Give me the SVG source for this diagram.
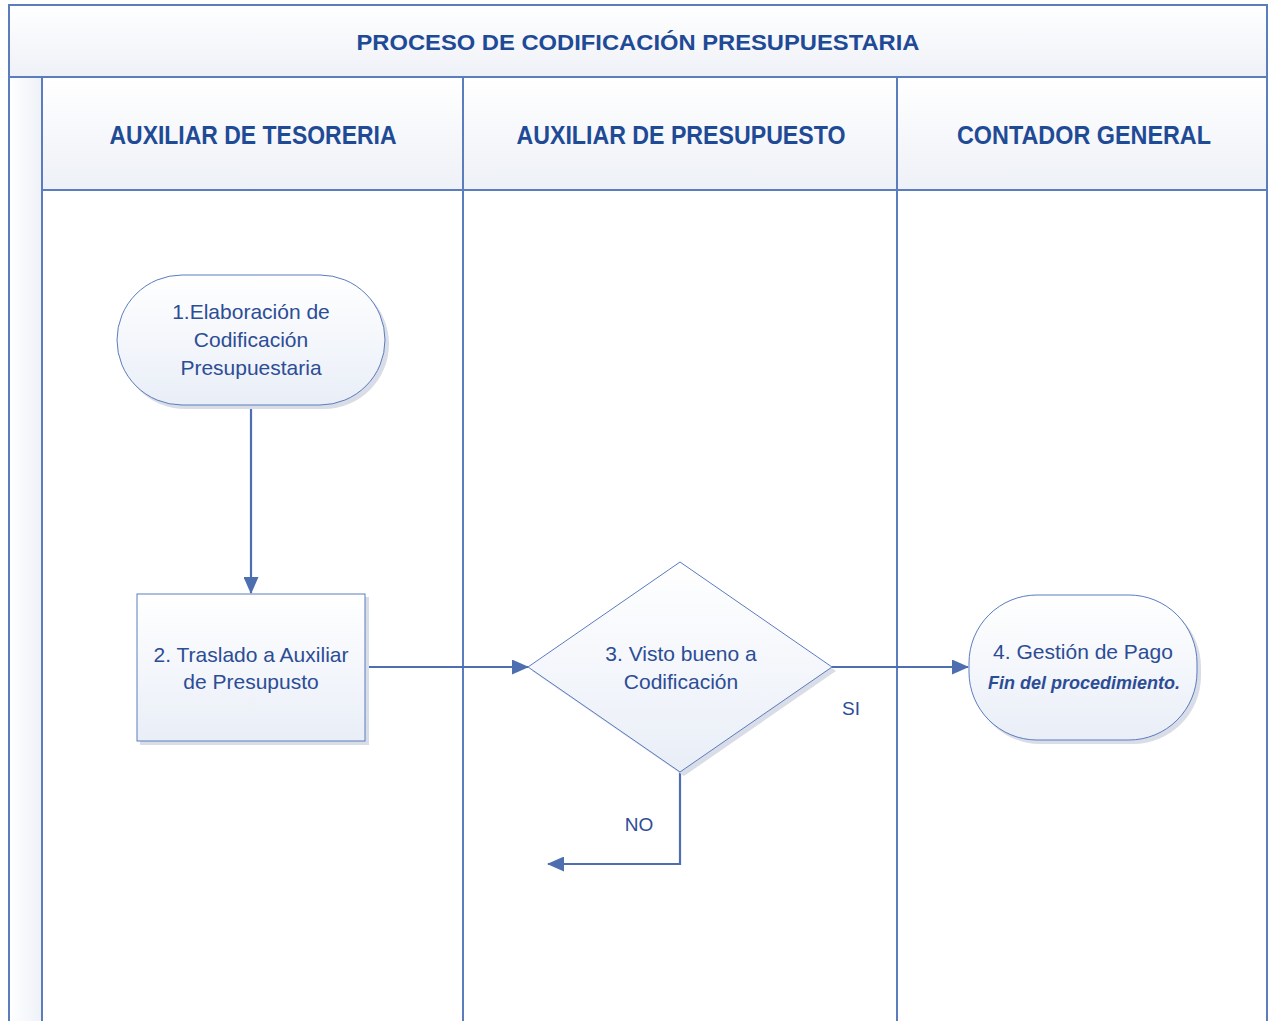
<svg xmlns="http://www.w3.org/2000/svg" width="1268" height="1021" viewBox="0 0 1268 1021">
<defs>
<linearGradient id="hdr" x1="0" y1="0" x2="0" y2="1"><stop offset="0" stop-color="#ffffff"/><stop offset="1" stop-color="#eef1f7"/></linearGradient>
<linearGradient id="nd" x1="0" y1="0" x2="0" y2="1"><stop offset="0" stop-color="#ffffff"/><stop offset="1" stop-color="#e9eef7"/></linearGradient>
<linearGradient id="strip" x1="0" y1="0" x2="1" y2="0"><stop offset="0" stop-color="#ffffff"/><stop offset="1" stop-color="#eef1f7"/></linearGradient>
<marker id="ah" markerWidth="17" markerHeight="15" refX="16" refY="7.5" orient="auto" markerUnits="userSpaceOnUse" viewBox="0 0 17 15"><path d="M0,0 L17,7.5 L0,15 Z" fill="#4d6fb0"/></marker>
</defs>
<style>
.frame{fill:none;stroke:#5b7cbd;stroke-width:2}
.hd{font-family:"Liberation Sans",Arial,sans-serif;font-weight:bold;fill:#1f4a96;text-anchor:middle}
.tx{font-family:"Liberation Sans",Arial,sans-serif;font-size:21px;fill:#2c4d96;text-anchor:middle}
.fin{font-family:"Liberation Sans",Arial,sans-serif;font-size:18px;font-weight:bold;font-style:italic;fill:#2c4d96;text-anchor:middle}
.nb{fill:url(#nd);stroke:#5b7cbd;stroke-width:1}
.sh{fill:#d9dde7}
.cn{fill:none;stroke:#4d6fb0;stroke-width:2.2}
.lb{font-family:"Liberation Sans",Arial,sans-serif;font-size:19px;fill:#2c4d96;text-anchor:middle}
</style>
<rect x="0" y="0" width="1268" height="1021" fill="#ffffff"/>
<g id="pool">
<rect x="9" y="5" width="1258" height="72" fill="url(#hdr)"/>
<rect x="9" y="77" width="33" height="950" fill="url(#strip)"/>
<rect x="42" y="77" width="1225" height="113" fill="url(#hdr)"/>
<path class="frame" d="M9,1030 V5 H1267 V1030"/>
<line class="frame" x1="9" y1="77" x2="1267" y2="77"/>
<line class="frame" x1="42" y1="190" x2="1267" y2="190"/>
<line class="frame" x1="42" y1="77" x2="42" y2="1030"/>
<line class="frame" x1="463" y1="77" x2="463" y2="1030"/>
<line class="frame" x1="897" y1="77" x2="897" y2="1030"/>
<text class="hd" x="638" y="50" font-size="22" textLength="563" lengthAdjust="spacingAndGlyphs">PROCESO DE CODIFICACIÓN PRESUPUESTARIA</text>
<text class="hd" x="253" y="144" font-size="25" textLength="287" lengthAdjust="spacingAndGlyphs">AUXILIAR DE TESORERIA</text>
<text class="hd" x="681" y="144" font-size="25" textLength="329" lengthAdjust="spacingAndGlyphs">AUXILIAR DE PRESUPUESTO</text>
<text class="hd" x="1084" y="144" font-size="25" textLength="254" lengthAdjust="spacingAndGlyphs">CONTADOR GENERAL</text>
</g>
<g id="connectors">
<line class="cn" x1="251" y1="405" x2="251" y2="593" marker-end="url(#ah)"/>
<line class="cn" x1="366" y1="667" x2="528" y2="667" marker-end="url(#ah)"/>
<line class="cn" x1="832" y1="667" x2="968" y2="667" marker-end="url(#ah)"/>
<polyline class="cn" points="680,772 680,864 548,864" marker-end="url(#ah)"/>
<text class="lb" x="851" y="715">SI</text>
<text class="lb" x="639" y="831">NO</text>
</g>
<g id="n1">
<rect class="sh" x="120" y="279" width="269" height="130" rx="65"/>
<rect class="nb" x="117" y="275" width="268" height="130" rx="65"/>
<text class="tx" x="251" y="319">1.Elaboración de</text>
<text class="tx" x="251" y="347">Codificación</text>
<text class="tx" x="251" y="375">Presupuestaria</text>
</g>
<g id="n2">
<rect class="sh" x="140" y="597" width="229" height="148"/>
<rect class="nb" x="137" y="594" width="228" height="147"/>
<text class="tx" x="251" y="662">2. Traslado a Auxiliar</text>
<text class="tx" x="251" y="689">de Presupusto</text>
</g>
<g id="n3">
<polygon class="sh" points="532,671 684,566 836,671 684,776"/>
<polygon class="nb" points="528,667 680,562 832,667 680,772"/>
<text class="tx" x="681" y="661">3. Visto bueno a</text>
<text class="tx" x="681" y="689">Codificación</text>
</g>
<g id="n4">
<rect class="sh" x="972" y="599" width="229" height="145" rx="68"/>
<rect class="nb" x="969" y="595" width="228" height="145" rx="68"/>
<text class="tx" x="1083" y="659">4. Gestión de Pago</text>
<text class="fin" x="1084" y="689">Fin del procedimiento.</text>
</g>
</svg>
